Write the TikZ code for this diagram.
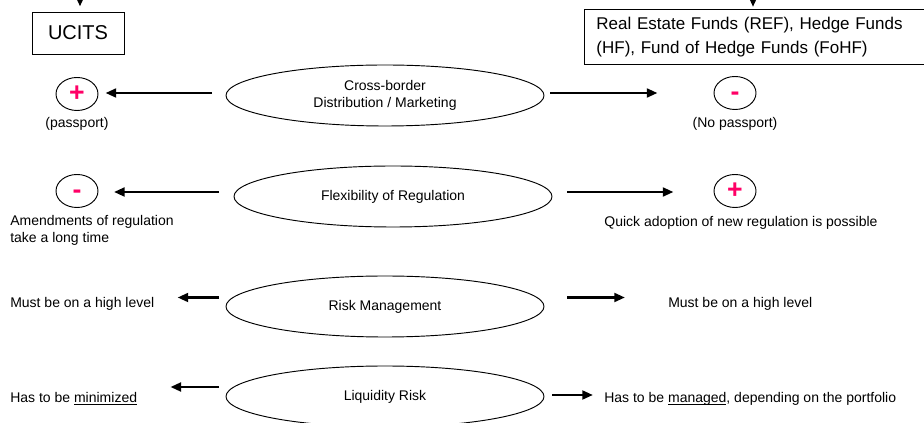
\documentclass[tikz,border=0pt]{standalone}
\usepackage{fontspec}
\setmainfont{Liberation Sans}
\usetikzlibrary{shapes.geometric, arrows.meta}
\definecolor{signpink}{RGB}{255,0,102}
\newcommand{\undl}[1]{\setbox0\hbox{#1}\rlap{\rule[-1.6pt]{\wd0}{0.6pt}}\box0}

\begin{document}
\begin{tikzpicture}[x = 0.75pt, y = -0.75pt,
	topic/.style = {draw, ellipse, line width = 0.7pt, inner sep = 0pt,
		minimum width = 238.5pt, minimum height = 45.75pt, align = center,
		font = \fontsize{10.5}{12.4}\selectfont},
	sign/.style = {draw, ellipse, line width = 0.7pt, inner sep = 0pt,
		minimum width = 31.5pt, minimum height = 24.75pt,
		text height = 12pt, text depth = 0pt,
		text = signpink, font = \fontsize{20}{20}\selectfont\bfseries},
	note/.style = {inner sep = 0pt, align = left,
		font = \fontsize{10.5}{12.75}\selectfont},
	fund/.style = {draw, rectangle, line width = 0.7pt},
	link/.style = {-{Triangle[length = 8pt, width = 6.5pt]}, line width = 2pt}]
\clip (0,0) rectangle (924,423);

% the two kinds of funds
\node[fund, minimum width = 69pt, minimum height = 31.5pt,
	font = \fontsize{15}{18}\selectfont] (ucits) at (78,33) {UCITS};
\node[fund, anchor = north west, minimum width = 270pt, minimum height = 41.25pt,
	text width = 252pt, inner xsep = 9pt, align = left,
	font = \fontsize{12.75}{18}\selectfont] (alt) at (584,9)
	{Real Estate Funds (REF), Hedge Funds\\(HF), Fund of Hedge Funds (FoHF)};
\coordinate (uin) at (80,-20);
\coordinate (ain) at (753,-20);
\draw[link, shorten > = 3.75pt] (uin) -- (uin |- ucits.north);
\draw[link, shorten > = 1.5pt] (ain) -- (ain |- alt.north);

% criteria
\node[topic] (cross) at (385,95.5) {Cross-border\\Distribution / Marketing};
\node[topic] (flex) at (393,196.5) {Flexibility of Regulation};
\node[topic] (risk) at (385,306.5) {Risk Management};
\node[topic] (liq) at (385,396.5) {Liquidity Risk};

% ratings
\node[sign] (crossplus) at (77,94) {+};
\node[sign] (crossminus) at (735,93) {-};
\node[sign] (flexminus) at (77,191) {-};
\node[sign] (flexplus) at (735,191) {+};

\node[note, anchor = base] (passport) at (77,128) {(passport)};
\node[note, anchor = base] (nopassport) at (735,128) {(No passport)};
\node[note, anchor = base west] (amend) at (10,243) {Amendments of regulation\\take a long time};
\node[note, anchor = base] (quick) at (741,227) {Quick adoption of new regulation is possible};
\node[note, anchor = base west] (mustl) at (10,308) {Must be on a high level};
\node[note, anchor = base west] (mustr) at (668,308) {Must be on a high level};
\node[note, anchor = base west] (minim) at (10,403) {Has to be \undl{minimized}};
\node[note, anchor = base west] (manag) at (604,403) {Has to be \undl{managed}, depending on the portfolio};

% arrows
\coordinate (t1l) at (212,93);
\coordinate (t1r) at (550,93);
\coordinate (t2l) at (219,192);
\coordinate (t2r) at (567,192);
\coordinate (t3l) at (219,297.5);
\coordinate (t3r) at (567,297.5);
\coordinate (t4l) at (219,387);
\coordinate (t4r) at (552,395);
\draw[link, shorten > = 5.25pt] (t1l) -- (t1l -| crossplus.east);
\draw[link, shorten > = 42pt] (t1r) -- (t1r -| crossminus.west);
\draw[link, shorten > = 11.6pt] (t2l) -- (t2l -| flexminus.east);
\draw[link, shorten > = 30pt] (t2r) -- (t2r -| flexplus.west);
\draw[link, shorten > = 17.25pt] (t3l) -- (t3l -| mustl.east);
\draw[link, shorten > = 32.25pt] (t3r) -- (t3r -| mustr.west);
\draw[link, shorten > = 24.75pt] (t4l) -- (t4l -| minim.east);
\draw[link, shorten > = 8.25pt] (t4r) -- (t4r -| manag.west);
\end{tikzpicture}
\end{document}
